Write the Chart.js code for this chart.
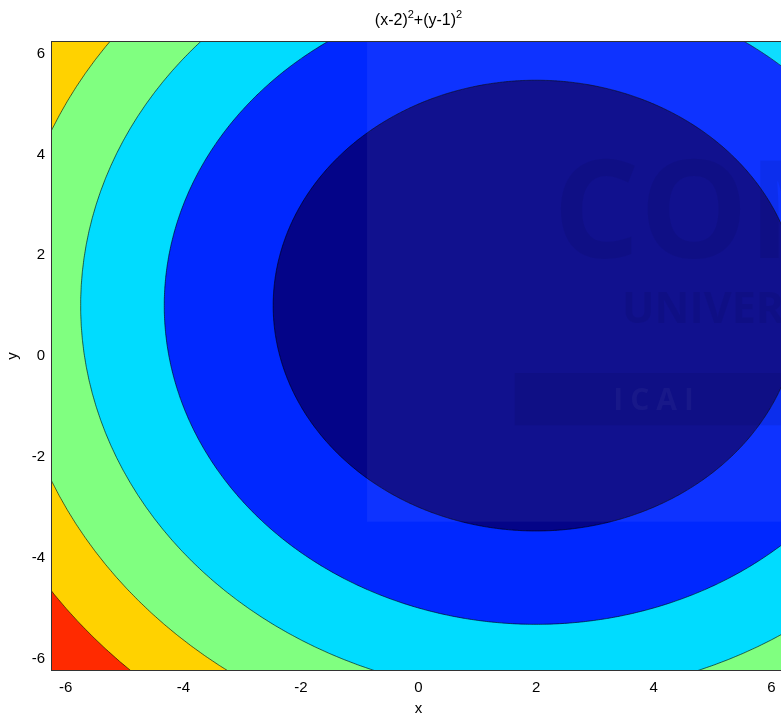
<!DOCTYPE html>
<html>
<head>
<meta charset="utf-8">
<title>(x-2)^2+(y-1)^2</title>
<script src="https://cdn.jsdelivr.net/npm/chart.js@4.4.1/dist/chart.umd.min.js"></script>
<style>
  html, body { margin: 0; padding: 0; background: #fff; overflow: hidden; }
  #wrap { position: relative; width: 800px; height: 716px; }
</style>
</head>
<body>
<div id="wrap"><canvas id="contourChart"></canvas></div>
<script>
// f(x, y) = (x-2)^2 + (y-1)^2  -> contornos são elipses em torno do centro
const centre = [2, 1];
// níveis de contorno, do menor para o maior
const levels = [20, 40, 60, 80, 100];
// cor de cada faixa: <20, 20-40, 40-60, 60-80, 80-100, >100
const bandColors = ['#040488', '#0028ff', '#00dcff', '#80ff80', '#ffd200', '#ff2a00'];
const xTicks = [-6, -4, -2, 0, 2, 4, 6];
const yTicks = [-6, -4, -2, 0, 2, 4, 6];
const xRange = [-6.25, 6.25];
const yRange = [-6.25, 6.25];
// título em partes: [texto, expoente?]
const titleParts = [['(x-2)', false], ['2', true], ['+(y-1)', false], ['2', true]];

const FAMILY = '"Liberation Sans", Arial, sans-serif';
const FONT = { family: FAMILY, size: 15 };

/**
 * Pontos da curva de nível f = level
 */
function contourPoints(level) {
    const r = Math.sqrt(level);
    const pts = [];
    for (let a = 0; a < 360; a += 2) {
        const t = (a + 1) * Math.PI / 180;
        pts.push({ x: centre[0] + r * Math.cos(t), y: centre[1] + r * Math.sin(t) });
    }
    pts.push(pts[0]);
    return pts;
}

// fundo da área do gráfico = faixa mais alta
const bandBackground = {
    id: 'bandBackground',
    beforeDatasetsDraw(chart) {
        const { ctx, chartArea: a } = chart;
        ctx.save();
        ctx.fillStyle = bandColors[bandColors.length - 1];
        ctx.fillRect(a.left, a.top, a.width, a.height);
        ctx.restore();
    }
};

// título com expoentes, centrado na área do gráfico
const supTitle = {
    id: 'supTitle',
    afterDraw(chart) {
        const { ctx, chartArea: a } = chart;
        const big = '16px ' + FAMILY, small = '11px ' + FAMILY;
        ctx.save();
        ctx.fillStyle = '#000';
        ctx.textBaseline = 'alphabetic';
        let w = 0;
        titleParts.forEach(([t, sup]) => { ctx.font = sup ? small : big; w += ctx.measureText(t).width; });
        let x = (a.left + a.right) / 2 - w / 2;
        const base = 25;
        titleParts.forEach(([t, sup]) => {
            ctx.font = sup ? small : big;
            ctx.fillText(t, x, sup ? base - 7 : base);
            x += ctx.measureText(t).width;
        });
        ctx.restore();
    }
};

// marca d'água e moldura dos eixos
const watermarkAndFrame = {
    id: 'watermarkAndFrame',
    afterDatasetsDraw(chart) {
        const { ctx, chartArea: a } = chart;
        const px = f => a.left + f * a.width;
        const py = f => a.top + f * a.height;
        ctx.save();
        ctx.beginPath();
        ctx.rect(a.left, a.top, a.width, a.height);
        ctx.clip();

        ctx.fillStyle = 'rgba(255,255,255,0.055)';
        ctx.fillRect(px(0.43), a.top, a.right - px(0.43), py(0.763) - a.top);

        ctx.fillStyle = 'rgba(0,0,50,0.085)';
        ctx.font = 'bold 136px "Open Sans", sans-serif';
        ctx.textBaseline = 'alphabetic';
        ctx.fillText('COMILLAS', px(0.683), py(0.344));
        ctx.font = 'bold 43px "Open Sans", sans-serif';
        ctx.fillText('UNIVERSIDAD', px(0.777), py(0.448));

        ctx.fillStyle = 'rgba(0,0,40,0.09)';
        ctx.fillRect(px(0.631), py(0.527), a.right - px(0.631), py(0.61) - py(0.527));
        ctx.fillStyle = 'rgba(255,255,255,0.04)';
        ctx.font = 'bold 30px "Open Sans", sans-serif';
        ctx.letterSpacing = '7px';
        ctx.fillText('ICAI', px(0.765), py(0.586));
        ctx.restore();

        ctx.save();
        ctx.strokeStyle = '#333';
        ctx.lineWidth = 1;
        ctx.strokeRect(a.left + 0.5, a.top + 0.5, a.width - 1, a.height - 1);
        ctx.restore();
    }
};

const datasets = levels.map((lv, i) => ({
    label: 'f = ' + lv,
    data: contourPoints(lv),
    showLine: true,
    fill: 'shape',
    backgroundColor: bandColors[i],
    borderColor: '#000',
    borderWidth: 0.6,
    pointRadius: 0,
    pointHoverRadius: 0,
    tension: 0.05,
    clip: 0
}));

new Chart(document.getElementById('contourChart').getContext('2d'), {
    type: 'scatter',
    data: { datasets },
    options: {
        responsive: true,
        maintainAspectRatio: false,
        animation: false,
        events: [],
        layout: { padding: { left: 0, right: 14, top: 41, bottom: 0 } },
        scales: {
            x: {
                type: 'linear',
                min: xRange[0],
                max: xRange[1],
                afterBuildTicks: s => { s.ticks = xTicks.map(v => ({ value: v })); },
                afterFit: s => { s.height = 45; },
                grid: { display: false, drawTicks: false },
                border: { display: false },
                ticks: { color: '#000', font: FONT, padding: 8 },
                title: { display: true, text: 'x', color: '#000', font: FONT, padding: { top: 0, bottom: -2 } }
            },
            y: {
                type: 'linear',
                min: yRange[0],
                max: yRange[1],
                afterBuildTicks: s => { s.ticks = yTicks.map(v => ({ value: v })); },
                afterFit: s => { s.width = 51; },
                grid: { display: false, drawTicks: false },
                border: { display: false },
                ticks: { color: '#000', font: FONT, padding: 6 },
                title: { display: true, text: 'y', color: '#000', font: FONT, padding: { top: 4, bottom: 0 } }
            }
        },
        plugins: {
            legend: { display: false },
            tooltip: { enabled: false },
            title: { display: false }
        }
    },
    plugins: [bandBackground, watermarkAndFrame, supTitle]
});
</script>
</body>
</html>
